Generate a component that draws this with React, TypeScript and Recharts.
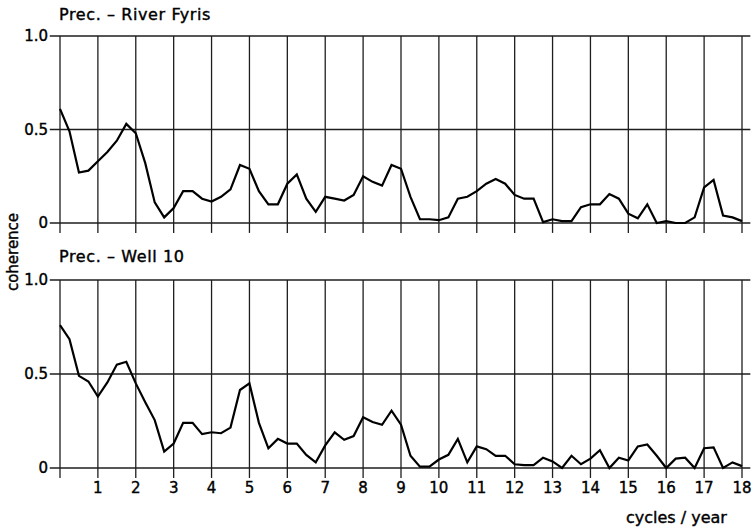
import React from 'react';
import { LineChart, Line, XAxis, YAxis, ReferenceLine } from 'recharts';

// Frequency axis (cycles / year) shared by both coherence spectra
const frequencies = [
  0, 0.25, 0.5, 0.75, 1, 1.25, 1.5, 1.75, 2, 2.25, 2.5, 2.75,
  3, 3.25, 3.5, 3.75, 4, 4.25, 4.5, 4.75, 5, 5.25, 5.5, 5.75,
  6, 6.25, 6.5, 6.75, 7, 7.25, 7.5, 7.75, 8, 8.25, 8.5, 8.75,
  9, 9.25, 9.5, 9.75, 10, 10.25, 10.5, 10.75, 11, 11.25, 11.5, 11.75,
  12, 12.25, 12.5, 12.75, 13, 13.25, 13.5, 13.75, 14, 14.25, 14.5, 14.75,
  15, 15.25, 15.5, 15.75, 16, 16.25, 16.5, 16.75, 17, 17.25, 17.5, 17.75,
  18,
];

// Coherence between precipitation and River Fyris discharge
const fyrisCoherence = [
  0.61, 0.49, 0.27, 0.28, 0.33, 0.38, 0.44, 0.53, 0.48, 0.32, 0.11, 0.03,
  0.08, 0.17, 0.17, 0.13, 0.115, 0.14, 0.18, 0.31, 0.29, 0.17, 0.1, 0.1,
  0.21, 0.26, 0.13, 0.06, 0.14, 0.13, 0.12, 0.15, 0.25, 0.22, 0.2, 0.31,
  0.29, 0.14, 0.02, 0.02, 0.015, 0.03, 0.13, 0.14, 0.17, 0.21, 0.235, 0.21,
  0.15, 0.13, 0.13, 0.005, 0.02, 0.01, 0.01, 0.085, 0.1, 0.1, 0.155, 0.13,
  0.05, 0.025, 0.1, 0.0, 0.01, 0.0, 0.0, 0.03, 0.19, 0.23, 0.04, 0.03,
  0.01,
];

// Coherence between precipitation and groundwater level in Well 10
const well10Coherence = [
  0.76, 0.685, 0.49, 0.46, 0.38, 0.455, 0.55, 0.565, 0.45, 0.35, 0.255, 0.087,
  0.13, 0.24, 0.24, 0.18, 0.19, 0.185, 0.215, 0.415, 0.45, 0.24, 0.105, 0.155,
  0.13, 0.13, 0.07, 0.03, 0.12, 0.19, 0.15, 0.17, 0.27, 0.245, 0.23, 0.305,
  0.23, 0.065, 0.007, 0.007, 0.045, 0.07, 0.155, 0.03, 0.115, 0.1, 0.065, 0.065,
  0.02, 0.015, 0.015, 0.055, 0.035, 0.0, 0.065, 0.02, 0.05, 0.095, 0.0, 0.055,
  0.04, 0.115, 0.125, 0.065, 0.0, 0.05, 0.055, 0.0, 0.105, 0.11, 0.0, 0.03,
  0.01,
];

const xTicks = [0, 1, 2, 3, 4, 5, 6, 7, 8, 9, 10, 11, 12, 13, 14, 15, 16, 17, 18];
const yTicks = [0, 0.5, 1];
const yTickText: Record<number, string> = { 0: '0', 0.5: '0.5', 1: '1.0' };

const FONT = '"DejaVu Sans", sans-serif';
const GRID = '#1e1e1e';
// a thin outline gives the lettering a slightly heavier weight
const tickStyle = { fill: '#000', stroke: '#000', strokeWidth: 0.4, fontSize: 15, fontFamily: FONT };

const toRows = (values: number[]) => frequencies.map((f, i) => ({ f, c: values[i] }));
const fyrisData = toRows(fyrisCoherence);
const well10Data = toRows(well10Coherence);

type PanelProps = {
  data: { f: number; c: number }[];
  height: number;
  axisHeight: number;
  showXLabels: boolean;
};

function Panel({ data, height, axisHeight, showXLabels }: PanelProps) {
  return (
    <LineChart
      width={752}
      height={height}
      data={data}
      margin={{ top: 36, right: 10, left: 0, bottom: 0 }}
    >
      <XAxis
        type="number"
        dataKey="f"
        domain={[0, 18]}
        ticks={xTicks}
        height={axisHeight}
        axisLine={false}
        tickLine={false}
        tickMargin={8}
        interval={0}
        tickFormatter={(v: number) => (v === 0 ? '' : String(v))}
        tick={showXLabels ? tickStyle : false}
      />
      <YAxis
        type="number"
        domain={[0, 1]}
        ticks={yTicks}
        width={60}
        axisLine={false}
        tickLine={false}
        tickMargin={6}
        interval={0}
        tickFormatter={(v: number) => yTickText[v] ?? String(v)}
        tick={tickStyle}
      />
      {yTicks.map((y) => (
        <ReferenceLine
          key={`h${y}`}
          segment={[{ x: -0.27, y }, { x: 18.22, y }]}
          stroke={GRID}
          strokeWidth={1.3}
          ifOverflow="visible"
        />
      ))}
      {xTicks.map((x) => (
        <ReferenceLine
          key={`v${x}`}
          segment={[{ x, y: 1 }, { x, y: -0.053 }]}
          stroke={GRID}
          strokeWidth={1.3}
          ifOverflow="visible"
        />
      ))}
      <Line
        type="linear"
        dataKey="c"
        stroke="#000"
        strokeWidth={2.2}
        dot={false}
        activeDot={false}
        isAnimationActive={false}
      />
    </LineChart>
  );
}

export default function App() {
  const text: React.CSSProperties = {
    position: 'absolute',
    fontFamily: FONT,
    color: '#000',
    whiteSpace: 'nowrap',
    lineHeight: '18px',
    WebkitTextStroke: '0.4px #000',
  };
  return (
    <div style={{ position: 'absolute', left: 0, top: 0, width: 752, height: 532, background: '#fff' }}>
      <div style={{ position: 'absolute', left: 0, top: 0 }}>
        <Panel data={fyrisData} height={245} axisHeight={22} showXLabels={false} />
      </div>
      <div style={{ position: 'absolute', left: 0, top: 244 }}>
        <Panel data={well10Data} height={264} axisHeight={40} showXLabels />
      </div>
      <div style={{ ...text, left: 59, top: 6, fontSize: 16, letterSpacing: 0.6 }}>Prec. – River Fyris</div>
      <div style={{ ...text, left: 59, top: 248, fontSize: 16, letterSpacing: 0.6 }}>Prec. – Well 10</div>
      <div
        style={{
          ...text,
          left: 13,
          top: 252,
          fontSize: 15,
          transform: 'translate(-50%, -50%) rotate(-90deg)',
        }}
      >
        coherence
      </div>
      <div style={{ ...text, left: 626, top: 509, fontSize: 16 }}>cycles / year</div>
    </div>
  );
}
